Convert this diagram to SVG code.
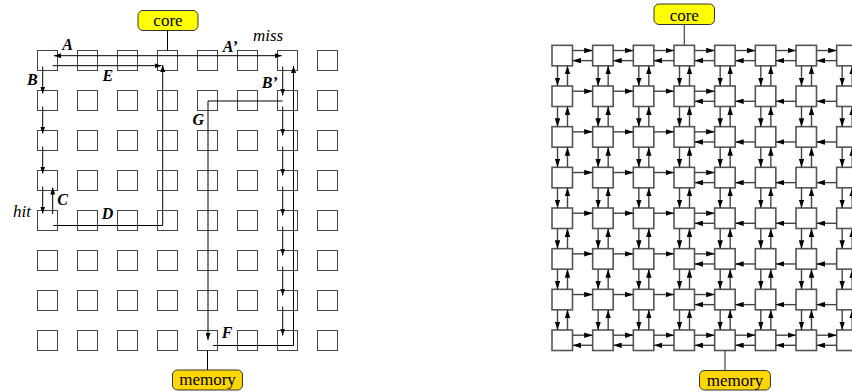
<svg xmlns="http://www.w3.org/2000/svg" xmlns:xlink="http://www.w3.org/1999/xlink" width="852" height="392" viewBox="0 0 852 392">
<style>
.lb{fill:#fff;stroke:#444;stroke-width:1}
.rb{fill:#fff;stroke:#555;stroke-width:1.6}
.lk{fill:none;stroke:#000;stroke-width:1}
.la{fill:none;stroke:#000;stroke-width:1;marker-end:url(#ah)}
.ra{fill:none;stroke:#444;stroke-width:1.4;marker-end:url(#ahr)}
.ln{fill:none;stroke:#444;stroke-width:1.2}
.core{fill:#ffff00;stroke:#333;stroke-width:1}
.mem{fill:#ffd700;stroke:#333;stroke-width:1}
.t{font-family:"Liberation Serif","Times New Roman",serif;font-size:17px;fill:#000}
.tl{font-family:"Liberation Serif","Times New Roman",serif;font-size:16px;font-weight:bold;font-style:italic;fill:#000}
.ti{font-family:"Liberation Serif","Times New Roman",serif;font-size:17px;font-style:italic;fill:#000}
</style>
<defs>
<marker id="ah" viewBox="0 0 7 5" refX="7" refY="2.5" markerWidth="7" markerHeight="5" markerUnits="userSpaceOnUse" orient="auto-start-reverse"><path d="M0,0L7,2.5L0,5z" fill="#000"/></marker>
<marker id="ahr" viewBox="0 0 8.5 5.5" refX="8.5" refY="2.75" markerWidth="8.5" markerHeight="5.5" markerUnits="userSpaceOnUse" orient="auto"><path d="M0,0L8.5,2.75L0,5.5z" fill="#000"/></marker>
<g id="vp"><line class="ra" x1="5.5" y1="20.5" x2="5.5" y2="40.67"/><line class="ra" x1="15.5" y1="40.67" x2="15.5" y2="20.5"/></g>
<g id="hr"><line class="ra" x1="20.5" y1="5.2" x2="40.67" y2="5.2"/></g>
<g id="hl"><line class="ra" x1="40.67" y1="15.3" x2="20.5" y2="15.3"/></g>
<g id="vcol"><use href="#vp" y="0"/><use href="#vp" y="40.67"/><use href="#vp" y="81.33"/><use href="#vp" y="122"/><use href="#vp" y="162.67"/><use href="#vp" y="203.33"/><use href="#vp" y="244"/></g>
<g id="hfull"><use href="#hr" x="0"/><use href="#hl" x="0"/><use href="#hr" x="40.67"/><use href="#hl" x="40.67"/><use href="#hr" x="81.33"/><use href="#hl" x="81.33"/><use href="#hr" x="122"/><use href="#hl" x="122"/><use href="#hr" x="162.67"/><use href="#hl" x="162.67"/><use href="#hr" x="203.33"/><use href="#hl" x="203.33"/><use href="#hr" x="244"/><use href="#hl" x="244"/></g>
<g id="hmix"><use href="#hr" x="0"/><use href="#hr" x="40.67"/><use href="#hr" x="81.33"/><use href="#hr" x="122"/><use href="#hl" x="122"/><use href="#hl" x="162.67"/><use href="#hl" x="203.33"/><use href="#hl" x="244"/></g>
</defs>

<!-- LEFT GRID NODES -->
<g id="left-grid">
<g id="a00"><rect class="lb" x="37.5" y="50.5" width="20" height="20"/></g>
<g id="a01"><rect class="lb" x="77.5" y="50.5" width="20" height="20"/></g>
<g id="a02"><rect class="lb" x="117.5" y="50.5" width="20" height="20"/></g>
<g id="a03"><rect class="lb" x="157.5" y="50.5" width="20" height="20"/></g>
<g id="a04"><rect class="lb" x="197.5" y="50.5" width="20" height="20"/></g>
<g id="a05"><rect class="lb" x="237.5" y="50.5" width="20" height="20"/></g>
<g id="a06"><rect class="lb" x="277.5" y="50.5" width="20" height="20"/></g>
<g id="a07"><rect class="lb" x="317.5" y="50.5" width="20" height="20"/></g>
<g id="a10"><rect class="lb" x="37.5" y="90.5" width="20" height="20"/></g>
<g id="a11"><rect class="lb" x="77.5" y="90.5" width="20" height="20"/></g>
<g id="a12"><rect class="lb" x="117.5" y="90.5" width="20" height="20"/></g>
<g id="a13"><rect class="lb" x="157.5" y="90.5" width="20" height="20"/></g>
<g id="a14"><rect class="lb" x="197.5" y="90.5" width="20" height="20"/></g>
<g id="a15"><rect class="lb" x="237.5" y="90.5" width="20" height="20"/></g>
<g id="a16"><rect class="lb" x="277.5" y="90.5" width="20" height="20"/></g>
<g id="a17"><rect class="lb" x="317.5" y="90.5" width="20" height="20"/></g>
<g id="a20"><rect class="lb" x="37.5" y="130.5" width="20" height="20"/></g>
<g id="a21"><rect class="lb" x="77.5" y="130.5" width="20" height="20"/></g>
<g id="a22"><rect class="lb" x="117.5" y="130.5" width="20" height="20"/></g>
<g id="a23"><rect class="lb" x="157.5" y="130.5" width="20" height="20"/></g>
<g id="a24"><rect class="lb" x="197.5" y="130.5" width="20" height="20"/></g>
<g id="a25"><rect class="lb" x="237.5" y="130.5" width="20" height="20"/></g>
<g id="a26"><rect class="lb" x="277.5" y="130.5" width="20" height="20"/></g>
<g id="a27"><rect class="lb" x="317.5" y="130.5" width="20" height="20"/></g>
<g id="a30"><rect class="lb" x="37.5" y="170.5" width="20" height="20"/></g>
<g id="a31"><rect class="lb" x="77.5" y="170.5" width="20" height="20"/></g>
<g id="a32"><rect class="lb" x="117.5" y="170.5" width="20" height="20"/></g>
<g id="a33"><rect class="lb" x="157.5" y="170.5" width="20" height="20"/></g>
<g id="a34"><rect class="lb" x="197.5" y="170.5" width="20" height="20"/></g>
<g id="a35"><rect class="lb" x="237.5" y="170.5" width="20" height="20"/></g>
<g id="a36"><rect class="lb" x="277.5" y="170.5" width="20" height="20"/></g>
<g id="a37"><rect class="lb" x="317.5" y="170.5" width="20" height="20"/></g>
<g id="a40"><rect class="lb" x="37.5" y="210.5" width="20" height="20"/></g>
<g id="a41"><rect class="lb" x="77.5" y="210.5" width="20" height="20"/></g>
<g id="a42"><rect class="lb" x="117.5" y="210.5" width="20" height="20"/></g>
<g id="a43"><rect class="lb" x="157.5" y="210.5" width="20" height="20"/></g>
<g id="a44"><rect class="lb" x="197.5" y="210.5" width="20" height="20"/></g>
<g id="a45"><rect class="lb" x="237.5" y="210.5" width="20" height="20"/></g>
<g id="a46"><rect class="lb" x="277.5" y="210.5" width="20" height="20"/></g>
<g id="a47"><rect class="lb" x="317.5" y="210.5" width="20" height="20"/></g>
<g id="a50"><rect class="lb" x="37.5" y="250.5" width="20" height="20"/></g>
<g id="a51"><rect class="lb" x="77.5" y="250.5" width="20" height="20"/></g>
<g id="a52"><rect class="lb" x="117.5" y="250.5" width="20" height="20"/></g>
<g id="a53"><rect class="lb" x="157.5" y="250.5" width="20" height="20"/></g>
<g id="a54"><rect class="lb" x="197.5" y="250.5" width="20" height="20"/></g>
<g id="a55"><rect class="lb" x="237.5" y="250.5" width="20" height="20"/></g>
<g id="a56"><rect class="lb" x="277.5" y="250.5" width="20" height="20"/></g>
<g id="a57"><rect class="lb" x="317.5" y="250.5" width="20" height="20"/></g>
<g id="a60"><rect class="lb" x="37.5" y="290.5" width="20" height="20"/></g>
<g id="a61"><rect class="lb" x="77.5" y="290.5" width="20" height="20"/></g>
<g id="a62"><rect class="lb" x="117.5" y="290.5" width="20" height="20"/></g>
<g id="a63"><rect class="lb" x="157.5" y="290.5" width="20" height="20"/></g>
<g id="a64"><rect class="lb" x="197.5" y="290.5" width="20" height="20"/></g>
<g id="a65"><rect class="lb" x="237.5" y="290.5" width="20" height="20"/></g>
<g id="a66"><rect class="lb" x="277.5" y="290.5" width="20" height="20"/></g>
<g id="a67"><rect class="lb" x="317.5" y="290.5" width="20" height="20"/></g>
<g id="a70"><rect class="lb" x="37.5" y="330.5" width="20" height="20"/></g>
<g id="a71"><rect class="lb" x="77.5" y="330.5" width="20" height="20"/></g>
<g id="a72"><rect class="lb" x="117.5" y="330.5" width="20" height="20"/></g>
<g id="a73"><rect class="lb" x="157.5" y="330.5" width="20" height="20"/></g>
<g id="a74"><rect class="lb" x="197.5" y="330.5" width="20" height="20"/></g>
<g id="a75"><rect class="lb" x="237.5" y="330.5" width="20" height="20"/></g>
<g id="a76"><rect class="lb" x="277.5" y="330.5" width="20" height="20"/></g>
<g id="a77"><rect class="lb" x="317.5" y="330.5" width="20" height="20"/></g>
</g>
<g id="left-core"><rect class="core" x="138" y="10.5" width="60" height="20" rx="5"/><text class="t" x="168" y="26" text-anchor="middle">core</text></g>
<g id="left-memory"><rect class="mem" x="172.5" y="370" width="70" height="20" rx="5"/><text class="t" x="207.5" y="385" text-anchor="middle">memory</text></g>

<!-- RIGHT GRID NODES -->
<g id="right-grid">
<g id="b00"><rect class="rb" x="552" y="45.33" width="20.5" height="20.5"/></g>
<g id="b01"><rect class="rb" x="592.67" y="45.33" width="20.5" height="20.5"/></g>
<g id="b02"><rect class="rb" x="633.33" y="45.33" width="20.5" height="20.5"/></g>
<g id="b03"><rect class="rb" x="674" y="45.33" width="20.5" height="20.5"/></g>
<g id="b04"><rect class="rb" x="714.67" y="45.33" width="20.5" height="20.5"/></g>
<g id="b05"><rect class="rb" x="755.33" y="45.33" width="20.5" height="20.5"/></g>
<g id="b06"><rect class="rb" x="796" y="45.33" width="20.5" height="20.5"/></g>
<g id="b07"><rect class="rb" x="836.67" y="45.33" width="20.5" height="20.5"/></g>
<g id="b10"><rect class="rb" x="552" y="86" width="20.5" height="20.5"/></g>
<g id="b11"><rect class="rb" x="592.67" y="86" width="20.5" height="20.5"/></g>
<g id="b12"><rect class="rb" x="633.33" y="86" width="20.5" height="20.5"/></g>
<g id="b13"><rect class="rb" x="674" y="86" width="20.5" height="20.5"/></g>
<g id="b14"><rect class="rb" x="714.67" y="86" width="20.5" height="20.5"/></g>
<g id="b15"><rect class="rb" x="755.33" y="86" width="20.5" height="20.5"/></g>
<g id="b16"><rect class="rb" x="796" y="86" width="20.5" height="20.5"/></g>
<g id="b17"><rect class="rb" x="836.67" y="86" width="20.5" height="20.5"/></g>
<g id="b20"><rect class="rb" x="552" y="126.67" width="20.5" height="20.5"/></g>
<g id="b21"><rect class="rb" x="592.67" y="126.67" width="20.5" height="20.5"/></g>
<g id="b22"><rect class="rb" x="633.33" y="126.67" width="20.5" height="20.5"/></g>
<g id="b23"><rect class="rb" x="674" y="126.67" width="20.5" height="20.5"/></g>
<g id="b24"><rect class="rb" x="714.67" y="126.67" width="20.5" height="20.5"/></g>
<g id="b25"><rect class="rb" x="755.33" y="126.67" width="20.5" height="20.5"/></g>
<g id="b26"><rect class="rb" x="796" y="126.67" width="20.5" height="20.5"/></g>
<g id="b27"><rect class="rb" x="836.67" y="126.67" width="20.5" height="20.5"/></g>
<g id="b30"><rect class="rb" x="552" y="167.33" width="20.5" height="20.5"/></g>
<g id="b31"><rect class="rb" x="592.67" y="167.33" width="20.5" height="20.5"/></g>
<g id="b32"><rect class="rb" x="633.33" y="167.33" width="20.5" height="20.5"/></g>
<g id="b33"><rect class="rb" x="674" y="167.33" width="20.5" height="20.5"/></g>
<g id="b34"><rect class="rb" x="714.67" y="167.33" width="20.5" height="20.5"/></g>
<g id="b35"><rect class="rb" x="755.33" y="167.33" width="20.5" height="20.5"/></g>
<g id="b36"><rect class="rb" x="796" y="167.33" width="20.5" height="20.5"/></g>
<g id="b37"><rect class="rb" x="836.67" y="167.33" width="20.5" height="20.5"/></g>
<g id="b40"><rect class="rb" x="552" y="208" width="20.5" height="20.5"/></g>
<g id="b41"><rect class="rb" x="592.67" y="208" width="20.5" height="20.5"/></g>
<g id="b42"><rect class="rb" x="633.33" y="208" width="20.5" height="20.5"/></g>
<g id="b43"><rect class="rb" x="674" y="208" width="20.5" height="20.5"/></g>
<g id="b44"><rect class="rb" x="714.67" y="208" width="20.5" height="20.5"/></g>
<g id="b45"><rect class="rb" x="755.33" y="208" width="20.5" height="20.5"/></g>
<g id="b46"><rect class="rb" x="796" y="208" width="20.5" height="20.5"/></g>
<g id="b47"><rect class="rb" x="836.67" y="208" width="20.5" height="20.5"/></g>
<g id="b50"><rect class="rb" x="552" y="248.67" width="20.5" height="20.5"/></g>
<g id="b51"><rect class="rb" x="592.67" y="248.67" width="20.5" height="20.5"/></g>
<g id="b52"><rect class="rb" x="633.33" y="248.67" width="20.5" height="20.5"/></g>
<g id="b53"><rect class="rb" x="674" y="248.67" width="20.5" height="20.5"/></g>
<g id="b54"><rect class="rb" x="714.67" y="248.67" width="20.5" height="20.5"/></g>
<g id="b55"><rect class="rb" x="755.33" y="248.67" width="20.5" height="20.5"/></g>
<g id="b56"><rect class="rb" x="796" y="248.67" width="20.5" height="20.5"/></g>
<g id="b57"><rect class="rb" x="836.67" y="248.67" width="20.5" height="20.5"/></g>
<g id="b60"><rect class="rb" x="552" y="289.33" width="20.5" height="20.5"/></g>
<g id="b61"><rect class="rb" x="592.67" y="289.33" width="20.5" height="20.5"/></g>
<g id="b62"><rect class="rb" x="633.33" y="289.33" width="20.5" height="20.5"/></g>
<g id="b63"><rect class="rb" x="674" y="289.33" width="20.5" height="20.5"/></g>
<g id="b64"><rect class="rb" x="714.67" y="289.33" width="20.5" height="20.5"/></g>
<g id="b65"><rect class="rb" x="755.33" y="289.33" width="20.5" height="20.5"/></g>
<g id="b66"><rect class="rb" x="796" y="289.33" width="20.5" height="20.5"/></g>
<g id="b67"><rect class="rb" x="836.67" y="289.33" width="20.5" height="20.5"/></g>
<g id="b70"><rect class="rb" x="552" y="330" width="20.5" height="20.5"/></g>
<g id="b71"><rect class="rb" x="592.67" y="330" width="20.5" height="20.5"/></g>
<g id="b72"><rect class="rb" x="633.33" y="330" width="20.5" height="20.5"/></g>
<g id="b73"><rect class="rb" x="674" y="330" width="20.5" height="20.5"/></g>
<g id="b74"><rect class="rb" x="714.67" y="330" width="20.5" height="20.5"/></g>
<g id="b75"><rect class="rb" x="755.33" y="330" width="20.5" height="20.5"/></g>
<g id="b76"><rect class="rb" x="796" y="330" width="20.5" height="20.5"/></g>
<g id="b77"><rect class="rb" x="836.67" y="330" width="20.5" height="20.5"/></g>
</g>
<g id="right-core"><rect class="core" x="654" y="4" width="60.5" height="20.5" rx="5"/><text class="t" x="684.3" y="20.5" text-anchor="middle">core</text></g>
<g id="right-memory"><rect class="mem" x="699.5" y="370.5" width="71" height="19.5" rx="5"/><text class="t" x="735" y="385.5" text-anchor="middle">memory</text></g>

<!-- CONNECTORS -->
<g id="connectors">
<!-- left -->
<line class="lk" x1="167.5" y1="30.5" x2="167.5" y2="50.5"/>
<line class="lk" x1="207.5" y1="350.5" x2="207.5" y2="370"/>
<line class="la" x1="54" y1="55.7" x2="281.7" y2="55.7" style="marker-start:url(#ah)"/>
<line class="la" x1="52.7" y1="65.7" x2="161.5" y2="65.7"/>
<path class="la" d="M53.3,225.5H162.7V65"/>
<line class="la" x1="42.7" y1="66.5" x2="42.7" y2="93.5"/>
<line class="la" x1="42.7" y1="106.5" x2="42.7" y2="133.5"/>
<line class="la" x1="42.7" y1="146.5" x2="42.7" y2="173.5"/>
<line class="la" x1="42.7" y1="186.5" x2="42.7" y2="213.5"/>
<line class="la" x1="52.7" y1="214" x2="52.7" y2="187.5"/>
<line class="la" x1="282.7" y1="66.5" x2="282.7" y2="95.5"/>
<line class="la" x1="282.7" y1="106.5" x2="282.7" y2="135.5"/>
<line class="la" x1="282.7" y1="146.5" x2="282.7" y2="175.5"/>
<line class="la" x1="282.7" y1="186.5" x2="282.7" y2="215.5"/>
<line class="la" x1="282.7" y1="226.5" x2="282.7" y2="255.5"/>
<line class="la" x1="282.7" y1="266.5" x2="282.7" y2="295.5"/>
<line class="la" x1="282.7" y1="306.5" x2="282.7" y2="335.5"/>
<path class="la" d="M282.7,101H208V340"/>
<path class="la" d="M213,345.5H293.5V66"/>
<!-- right -->
<line class="ln" x1="684.3" y1="24.5" x2="684.3" y2="45.3"/>
<line class="ln" x1="725" y1="350.5" x2="725" y2="370.5"/>
<use href="#vcol" x="552" y="45.33"/>
<use href="#vcol" x="592.67" y="45.33"/>
<use href="#vcol" x="633.33" y="45.33"/>
<use href="#vcol" x="674" y="45.33"/>
<use href="#vcol" x="714.67" y="45.33"/>
<use href="#vcol" x="755.33" y="45.33"/>
<use href="#vcol" x="796" y="45.33"/>
<use href="#vcol" x="836.67" y="45.33"/>
<use href="#hfull" x="552" y="45.33"/>
<use href="#hmix" x="552" y="86"/>
<use href="#hmix" x="552" y="126.67"/>
<use href="#hmix" x="552" y="167.33"/>
<use href="#hmix" x="552" y="208"/>
<use href="#hmix" x="552" y="248.67"/>
<use href="#hmix" x="552" y="289.33"/>
<use href="#hfull" x="552" y="330"/>
</g>

<!-- LABELS -->
<g id="labels">
<text class="tl" x="62.3" y="50">A</text>
<text class="tl" x="222.7" y="51.5">A’</text>
<text class="ti" x="253" y="40.5">miss</text>
<text class="tl" x="27" y="85">B</text>
<text class="tl" x="102.5" y="80.5">E</text>
<text class="tl" x="261.7" y="88">B’</text>
<text class="tl" x="192.5" y="125">G</text>
<text class="tl" x="57.3" y="205">C</text>
<text class="ti" x="13" y="216.7">hit</text>
<text class="tl" x="101.7" y="218.5">D</text>
<text class="tl" x="221.7" y="337.5">F</text>
</g>
</svg>
